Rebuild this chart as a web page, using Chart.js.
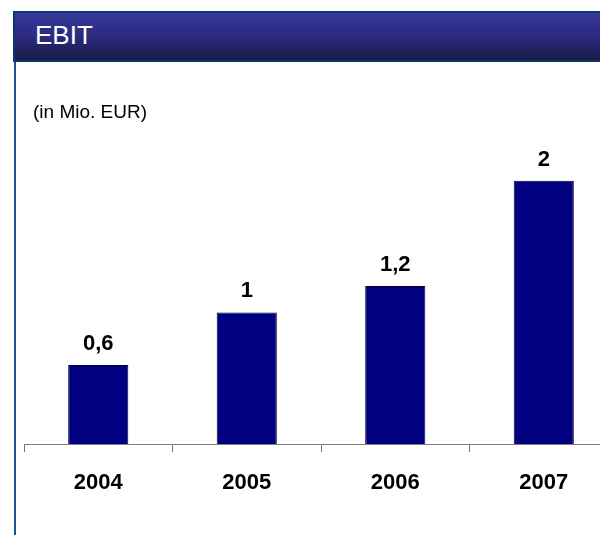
<!DOCTYPE html>
<html>
<head>
<meta charset="utf-8">
<script src="https://cdn.jsdelivr.net/npm/chart.js@4/dist/chart.umd.min.js"></script>
<style>
    html, body { margin: 0; padding: 0; background: #fff; overflow: hidden; }
    body { width: 600px; height: 535px; position: relative; font-family: "Liberation Sans", Arial, sans-serif; }
    .header {
        position: absolute; left: 13px; top: 11px; width: 620px; height: 47px;
        border: 2px solid #0b3766;
        background: linear-gradient(to bottom, #37379b 0%, #2a2a80 50%, #1a1a48 100%);
    }
    .header span { position: absolute; left: 20px; top: 9px; color: #fff; font-size: 26px; line-height: 1; }
    .side-line { position: absolute; left: 14px; top: 62px; width: 2px; height: 480px; background: #21508e; }
    .unit { position: absolute; left: 33px; top: 101px; font-size: 19px; color: #000; }
    .chart-box { position: absolute; left: 0; top: 0; width: 640px; height: 535px; }
</style>
</head>
<body>
<div class="chart-box"><canvas id="chart-bars" width="640" height="535"></canvas></div>
<div class="header"><span>EBIT</span></div>
<div class="side-line"></div>
<div class="unit">(in Mio. EUR)</div>
<script>
var years = ['2004', '2005', '2006', '2007'];
var ebitValues = [0.6, 1, 1.2, 2];

function formatDe(v) {
    return String(v).replace('.', ',');
}

// values above the bars
var barLabels = {
    id: 'barLabels',
    afterDatasetsDraw: function (chart) {
        var ctx = chart.ctx;
        var meta = chart.getDatasetMeta(0);
        ctx.save();
        ctx.font = 'bold 22px "Liberation Sans", Arial, sans-serif';
        ctx.fillStyle = '#000';
        ctx.textAlign = 'center';
        ctx.textBaseline = 'alphabetic';
        meta.data.forEach(function (bar, i) {
            ctx.fillText(formatDe(chart.data.datasets[0].data[i]), bar.x, bar.y - 15);
        });
        ctx.restore();
    }
};

var ctx = document.getElementById('chart-bars').getContext('2d');
var myChart = new Chart(ctx, {
    type: 'bar',
    data: {
        labels: years,
        datasets: [{
            data: ebitValues,
            backgroundColor: '#000080',
            borderColor: '#000033',
            borderWidth: 1,
            categoryPercentage: 1,
            barPercentage: 0.405
        }]
    },
    options: {
        responsive: false,
        animation: false,
        layout: { padding: { left: 24, right: 22, top: 115, bottom: 0 } },
        plugins: {
            legend: { display: false },
            tooltip: { enabled: false }
        },
        scales: {
            y: {
                display: false,
                min: 0,
                max: 2.5
            },
            x: {
                grid: {
                    display: true,
                    offset: true,
                    drawOnChartArea: false,
                    drawTicks: true,
                    tickLength: 8,
                    color: '#707070'
                },
                border: { display: true, color: '#808080', width: 1 },
                ticks: {
                    color: '#000',
                    padding: 18,
                    font: { family: '"Liberation Sans", Arial, sans-serif', size: 22, weight: 'bold' }
                },
                afterFit: function (scale) {
                    scale.height = 91;
                }
            }
        }
    },
    plugins: [barLabels]
});
</script>
</body>
</html>
